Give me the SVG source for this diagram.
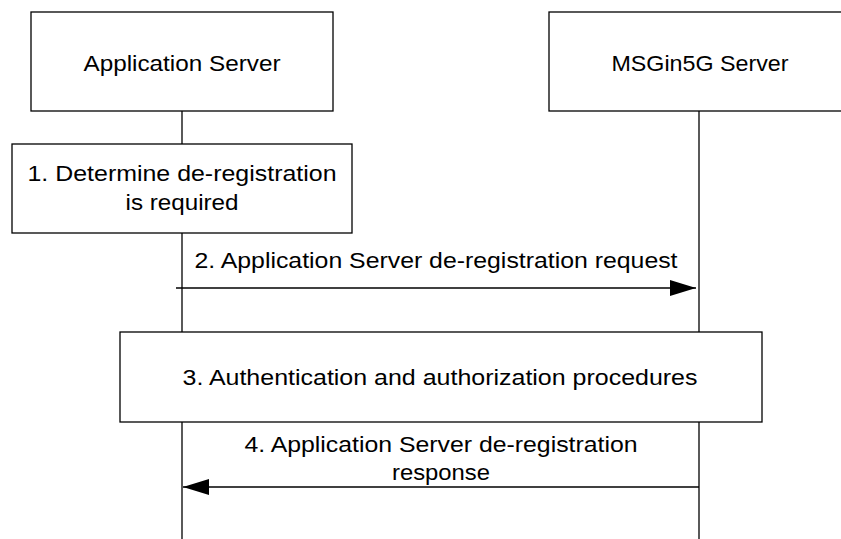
<svg xmlns="http://www.w3.org/2000/svg" width="841" height="539" viewBox="0 0 841 539">
<style>
.box{fill:#fff;stroke:#000;stroke-width:1.3}
.life{stroke:#000;stroke-width:1.3;fill:none}
.msg{stroke:#000;stroke-width:1.5;fill:none}
text{font-family:"Liberation Sans",Arial,sans-serif;font-size:22px;fill:#000;text-anchor:middle}
</style>
<defs>
<marker id="ah" markerWidth="26" markerHeight="16" refX="26" refY="8" orient="auto" markerUnits="userSpaceOnUse">
<path d="M0,0 L26,8 L0,16 Z" fill="#000"/>
</marker>
</defs>
<rect width="841" height="539" fill="#fff"/>
<g id="lifelines">
<line class="life" x1="182" y1="111" x2="182" y2="144"/>
<line class="life" x1="182" y1="233" x2="182" y2="332"/>
<line class="life" x1="182" y1="422" x2="182" y2="539"/>
<line class="life" x1="699" y1="111" x2="699" y2="332"/>
<line class="life" x1="699" y1="422" x2="699" y2="539"/>
</g>
<g id="as">
<rect class="box" x="31" y="12" width="302" height="99"/>
<text x="182" y="71" textLength="197" lengthAdjust="spacingAndGlyphs">Application Server</text>
</g>
<g id="msgin5g">
<rect class="box" x="549" y="12" width="310" height="99"/>
<text x="700" y="71" textLength="177" lengthAdjust="spacingAndGlyphs">MSGin5G Server</text>
</g>
<g id="step1">
<rect class="box" x="12" y="144" width="340" height="89"/>
<text x="182" y="181" textLength="309" lengthAdjust="spacingAndGlyphs">1. Determine de-registration</text>
<text x="182" y="210" textLength="113" lengthAdjust="spacingAndGlyphs">is required</text>
</g>
<g id="step3">
<rect class="box" x="120" y="332" width="642" height="90"/>
<text x="440" y="385" textLength="515" lengthAdjust="spacingAndGlyphs">3. Authentication and authorization procedures</text>
</g>
<g id="connectors">
<line class="msg" x1="176" y1="288" x2="696" y2="288" marker-end="url(#ah)"/>
<text x="436" y="268" textLength="483" lengthAdjust="spacingAndGlyphs">2. Application Server de-registration request</text>
<line class="msg" x1="699" y1="487" x2="183" y2="487" marker-end="url(#ah)"/>
<text x="441" y="452" textLength="393" lengthAdjust="spacingAndGlyphs">4. Application Server de-registration</text>
<text x="441" y="480" textLength="98" lengthAdjust="spacingAndGlyphs">response</text>
</g>
</svg>
